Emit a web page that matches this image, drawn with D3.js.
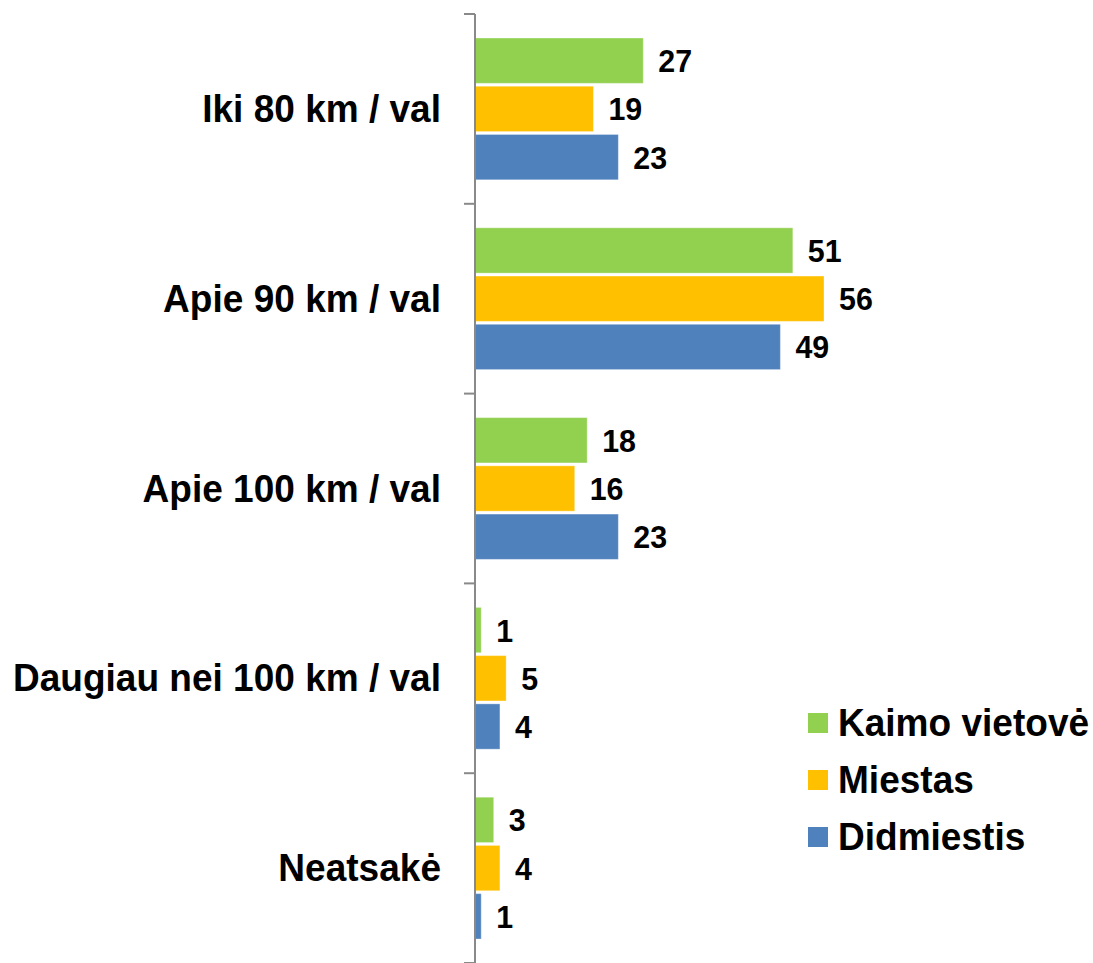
<!DOCTYPE html>
<html>
<head>
<meta charset="utf-8">
<script src="https://cdn.jsdelivr.net/npm/d3@7"></script>
<style>
  body { margin: 0; background: #fff; }
  text { font-family: "Liberation Sans", Arial, sans-serif; font-weight: bold; fill: #000; }
</style>
</head>
<body>
<div id="chart"></div>
<script>
'use strict';

// data
const categories = ['Iki 80 km / val', 'Apie 90 km / val', 'Apie 100 km / val', 'Daugiau nei 100 km / val', 'Neatsakė'];
const series = ['Kaimo vietovė', 'Miestas', 'Didmiestis'];
const kaimo = [27, 51, 18, 1, 3];
const miestas = [19, 56, 16, 5, 4];
const didmiestis = [23, 49, 23, 4, 1];
const colors = ['#92D050', '#FFC000', '#4F81BD'];

const width = 1093, height = 963;

// the picture is slightly squeezed sideways, so text gets a small horizontal scale
const stretch = 0.95;
const cat_font = 39;
const val_font = 32;
const leg_font = 39;

const values = [kaimo, miestas, didmiestis];
const rows = categories.map((c, i) => ({
    category: c,
    items: series.map((s, j) => ({ series: s, value: values[j][i], color: colors[j] }))
}));

const svg = d3.select('#chart').append('svg')
    .attr('width', width)
    .attr('height', height);

// scales
const x = d3.scaleLinear().domain([0, 56]).range([475, 824]);
const y0 = d3.scaleBand().domain(categories).range([14, 963]);
const y1 = d3.scaleBand().domain(series)
    .range([24, y0.bandwidth() - 24])
    .paddingInner(0.06);

// groups
const group = svg.selectAll('g.cat')
    .data(rows)
    .enter()
    .append('g')
    .attr('class', 'cat')
    .attr('transform', d => `translate(0,${y0(d.category)})`);

// bars
group.selectAll('rect')
    .data(d => d.items)
    .enter()
    .append('rect')
    .attr('x', x(0))
    .attr('y', d => y1(d.series))
    .attr('width', d => x(d.value) - x(0))
    .attr('height', y1.bandwidth())
    .attr('fill', d => d.color)
    .attr('stroke', '#fff')
    .attr('stroke-opacity', 0.35)
    .attr('stroke-width', 1);

// value labels
group.selectAll('text.val')
    .data(d => d.items)
    .enter()
    .append('text')
    .attr('class', 'val')
    .attr('transform', d => `translate(${x(d.value) + 15},${y1(d.series) + y1.bandwidth() / 2 + 11.5}) scale(${stretch},1)`)
    .attr('font-size', val_font)
    .text(d => d.value);

// vertical axis with category boundary ticks
const axis_g = svg.append('g');
axis_g.append('line')
    .attr('x1', x(0)).attr('x2', x(0))
    .attr('y1', y0.range()[0]).attr('y2', y0.range()[1])
    .attr('stroke', '#898989')
    .attr('stroke-width', 2);

const bounds = categories.map(c => y0(c)).concat([y0.range()[1]]);
axis_g.selectAll('line.tick')
    .data(bounds)
    .enter()
    .append('line')
    .attr('class', 'tick')
    .attr('x1', x(0) - 11).attr('x2', x(0))
    .attr('y1', d => d).attr('y2', d => d)
    .attr('stroke', '#898989')
    .attr('stroke-width', 2);

// category labels
svg.selectAll('text.cat')
    .data(categories)
    .enter()
    .append('text')
    .attr('class', 'cat')
    .attr('text-anchor', 'end')
    .attr('transform', d => `translate(441,${y0(d) + y0.bandwidth() / 2 + 13}) scale(${stretch},1)`)
    .attr('font-size', cat_font)
    .text(d => d);

// legend
const legend = svg.append('g')
    .attr('transform', 'translate(808,713)');

const leg = legend.selectAll('g')
    .data(series)
    .enter()
    .append('g')
    .attr('transform', (d, i) => `translate(0,${i * 57})`);

leg.append('rect')
    .attr('width', 20)
    .attr('height', 20)
    .attr('fill', (d, i) => colors[i]);

leg.append('text')
    .attr('transform', `translate(30,23) scale(${stretch},1)`)
    .attr('font-size', leg_font)
    .text(d => d);
</script>
</body>
</html>
